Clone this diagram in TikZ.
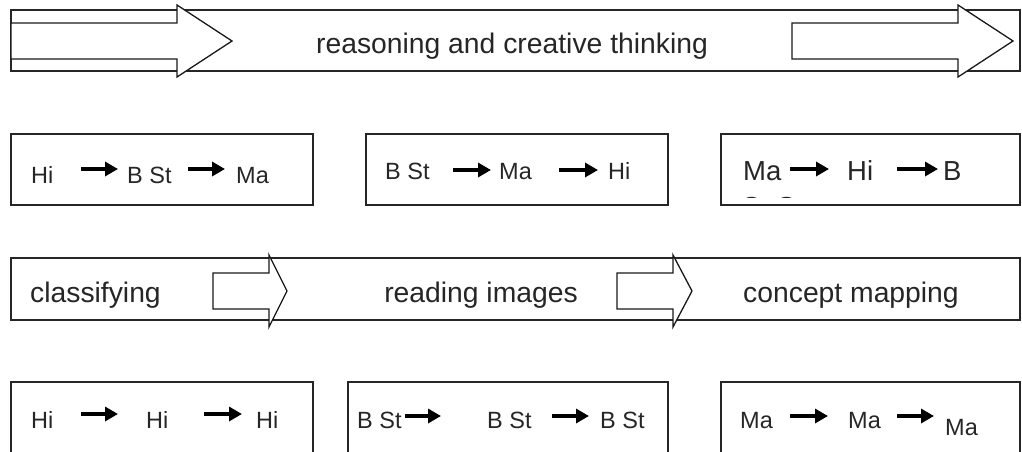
\documentclass[tikz,border=0pt]{standalone}
\usepackage{fontspec}
\setmainfont{Liberation Sans}
\usetikzlibrary{arrows.meta}
\begin{document}
\begin{tikzpicture}[x=1pt,y=-1pt,
  frame/.style={draw=black!85,line width=1.3pt},
  bigarrow/.style={draw=black!90,fill=white,line width=1.3pt,line join=miter},
  lbl/.style={inner sep=0pt,anchor=base west,text=black!85,font=\fontsize{23.5}{28}\selectfont},
  lblbig/.style={inner sep=0pt,anchor=base west,text=black!85,font=\fontsize{27.5}{32}\selectfont},
  ttl/.style={inner sep=0pt,anchor=base,text=black!85,font=\fontsize{28.3}{33}\selectfont},
  conn/.style={line width=3.6pt,black,-{Triangle[length=13pt,width=14pt]}}]
\useasboundingbox (0,0) rectangle (1022,452);
\fill[white] (0,0) rectangle (1022,452);

% ---- top banner ----
\draw[frame] (11,10) rectangle (1020,71);
\node[ttl] (t1) at (512,54) {reasoning and creative thinking};
\draw[bigarrow] (11,23) -- (177,23) -- (177,5) -- (232,41) -- (177,77) -- (177,59) -- (11,59) -- cycle;
\draw[bigarrow] (792,23) -- (958,23) -- (958,5) -- (1013,41) -- (958,77) -- (958,59) -- (792,59) -- cycle;

% ---- row 2 ----
\draw[frame] (11,134) rectangle (313,205);
\draw[frame] (366,134) rectangle (668,205);
\draw[frame] (721,134) rectangle (1020,205);

\node[lbl] (a1) at (31,183) {Hi};
\node[lbl] (a2) at (127,183) {B St};
\node[lbl] (a3) at (236,183) {Ma};
\coordinate (a1s) at (81,169); \coordinate (a1e) at (118,169);
\coordinate (a2s) at (188,169); \coordinate (a2e) at (225,169);
\draw[conn] (a1s) -- (a1e);
\draw[conn] (a2s) -- (a2e);

\node[lbl] (b1) at (385,179) {B St};
\node[lbl] (b2) at (499,179) {Ma};
\node[lbl] (b3) at (608,179) {Hi};
\coordinate (b1s) at (453,170); \coordinate (b1e) at (491,170);
\coordinate (b2s) at (559,170); \coordinate (b2e) at (598,170);
\draw[conn] (b1s) -- (b1e);
\draw[conn] (b2s) -- (b2e);

\node[lblbig] (c1) at (743,180) {Ma};
\node[lblbig] (c2) at (847,180) {Hi};
\node[lblbig] (c3) at (943,180) {B};
\coordinate (c1s) at (790,169); \coordinate (c1e) at (829,169);
\coordinate (c2s) at (897,169); \coordinate (c2e) at (938,169);
\draw[conn] (c1s) -- (c1e);
\draw[conn] (c2s) -- (c2e);
\begin{scope}
  \clip (722,135) rectangle (1019,197);
  \node[lblbig] (c4) at (742,216) {St};
  \node[lblbig] (c5) at (777,216) {St};
\end{scope}

% ---- row 3 ----
\draw[frame] (11,258) rectangle (1020,320);
\draw[bigarrow] (213,273) -- (269,273) -- (269,255) -- (287,291) -- (269,327) -- (269,309) -- (213,309) -- cycle;
\draw[bigarrow] (617,273) -- (673,273) -- (673,255) -- (692,291) -- (673,327) -- (673,309) -- (617,309) -- cycle;
\node[ttl,anchor=base west] (d1) at (30,302) {classifying};
\node[ttl] (d2) at (481,302) {reading images};
\node[ttl] (d3) at (851,302) {concept mapping};

% ---- row 4 ----
\draw[frame] (11,453) -- (11,382) -- (313,382) -- (313,453);
\draw[frame] (348,453) -- (348,382) -- (668,382) -- (668,453);
\draw[frame] (721,453) -- (721,382) -- (1020,382) -- (1020,453);

\node[lbl] (e1) at (31,428) {Hi};
\node[lbl] (e2) at (146,428) {Hi};
\node[lbl] (e3) at (256,428) {Hi};
\coordinate (e1s) at (81,414); \coordinate (e1e) at (118,414);
\coordinate (e2s) at (204,414); \coordinate (e2e) at (242,414);
\draw[conn] (e1s) -- (e1e);
\draw[conn] (e2s) -- (e2e);

\node[lbl] (f1) at (357,428) {B St};
\node[lbl] (f2) at (487,428) {B St};
\node[lbl] (f3) at (600,428) {B St};
\coordinate (f1s) at (405,416); \coordinate (f1e) at (441,416);
\coordinate (f2s) at (552,416); \coordinate (f2e) at (589,416);
\draw[conn] (f1s) -- (f1e);
\draw[conn] (f2s) -- (f2e);

\node[lbl] (g1) at (740,428) {Ma};
\node[lbl] (g2) at (848,428) {Ma};
\node[lbl] (g3) at (945,435) {Ma};
\coordinate (g1s) at (790,416); \coordinate (g1e) at (828,416);
\coordinate (g2s) at (897,416); \coordinate (g2e) at (934,416);
\draw[conn] (g1s) -- (g1e);
\draw[conn] (g2s) -- (g2e);
\end{tikzpicture}
\end{document}
